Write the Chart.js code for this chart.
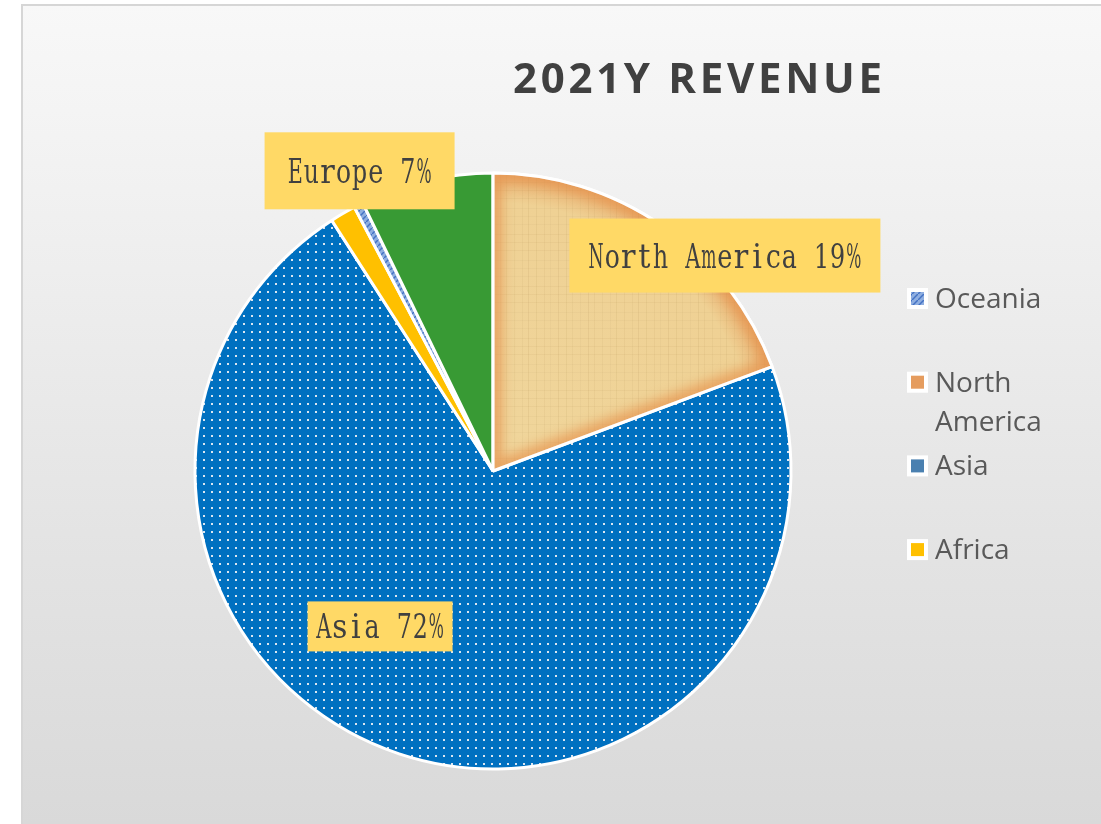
<!DOCTYPE html>
<html>
<head>
  <title>2021Y Revenue</title>
  <script src="https://cdn.jsdelivr.net/npm/chart.js"></script>
  <style>
    body { margin: 0; background: #fff; }
    canvas { display: block; }
  </style>
</head>
<body>
  <canvas id="pieChart" width="1101" height="824"></canvas>

  <script>
    // data, clockwise from 12 o'clock
    const regions = ['North America', 'Asia', 'Africa', 'Oceania', 'Europe'];
    const revenue = [19.3, 71.6, 1.4, 0.5, 7.2];
    const legendOrder = ['Oceania', 'North America', 'Asia', 'Africa'];
    const labelled = ['North America', 'Asia', 'Europe'];

    const CX = 493, CY = 471, R = 298;

    // fills
    function tile(w, h, draw) {
      const c = document.createElement('canvas');
      c.width = w; c.height = h;
      draw(c.getContext('2d'));
      return c.getContext('2d').createPattern(c, 'repeat');
    }

    const asiaFill = tile(8, 8, g => {
      g.fillStyle = '#0070c0'; g.fillRect(0, 0, 8, 8);
      g.fillStyle = '#dce6f0'; g.fillRect(3, 3, 2, 2);
    });

    const oceaniaFill = tile(6, 6, g => {
      g.fillStyle = '#8eaee0'; g.fillRect(0, 0, 6, 6);
      g.strokeStyle = '#4472c4'; g.lineWidth = 1.5;
      g.beginPath(); g.moveTo(-1, 7); g.lineTo(7, -1); g.stroke();
    });

    // papyrus-like texture for North America, laid over the whole canvas
    const naFill = (() => {
      const c = document.createElement('canvas');
      c.width = 1101; c.height = 824;
      const g = c.getContext('2d');
      const rg = g.createRadialGradient(CX, CY, 0, CX, CY, R);
      rg.addColorStop(0, '#f0d69c');
      rg.addColorStop(0.9, '#efd194');
      rg.addColorStop(1, '#e9b071');
      g.fillStyle = rg; g.fillRect(0, 0, 1101, 824);
      g.strokeStyle = '#8c6a2c';
      for (let x = 480; x < 800; x += 2) {
        if ((x * 7) % 11 < 3) {
          g.globalAlpha = 0.04 + ((x * 3) % 5) * 0.012;
          g.beginPath(); g.moveTo(x + 0.5, 160); g.lineTo(x + 0.5, 480); g.stroke();
        }
      }
      for (let y = 160; y < 480; y += 2) {
        if ((y * 5) % 13 < 3) {
          g.globalAlpha = 0.04 + ((y * 7) % 4) * 0.012;
          g.beginPath(); g.moveTo(480, y + 0.5); g.lineTo(800, y + 0.5); g.stroke();
        }
      }
      g.globalAlpha = 1;
      return g.createPattern(c, 'no-repeat');
    })();

    const fills = {
      'North America': naFill,
      'Asia': asiaFill,
      'Africa': '#ffc000',
      'Oceania': oceaniaFill,
      'Europe': '#389a34'
    };
    const legendSwatch = {
      'Oceania': oceaniaFill,
      'North America': '#e59c5e',
      'Asia': '#4a80b0',
      'Africa': '#ffc000'
    };

    // label boxes: offset from slice centroid, box size
    const labelBox = {
      'North America': { dx: 147, dy: -93, w: 311, h: 74 },
      'Asia': { dx: -66, dy: 14, w: 145, h: 50 },
      'Europe': { dx: -100, dy: -155, w: 190, h: 77 }
    };

    function slicePath(ctx, arc) {
      const p = arc.getProps(['x', 'y', 'startAngle', 'endAngle', 'outerRadius']);
      ctx.beginPath();
      ctx.moveTo(p.x, p.y);
      ctx.arc(p.x, p.y, p.outerRadius, p.startAngle, p.endAngle);
      ctx.closePath();
    }

    const backdrop = {
      id: 'backdrop',
      beforeDraw(chart) {
        const ctx = chart.ctx;
        ctx.save();
        ctx.fillStyle = '#ffffff';
        ctx.fillRect(0, 0, chart.width, chart.height);
        const lg = ctx.createLinearGradient(0, 4, 0, chart.height);
        lg.addColorStop(0, '#f8f8f8');
        lg.addColorStop(1, '#d9d9d9');
        ctx.fillStyle = lg;
        ctx.fillRect(21, 4, chart.width - 21, chart.height - 4);
        ctx.strokeStyle = '#d6d6d6';
        ctx.lineWidth = 2;
        ctx.beginPath();
        ctx.moveTo(22, chart.height); ctx.lineTo(22, 5); ctx.lineTo(chart.width, 5);
        ctx.stroke();
        ctx.restore();
      },
      // soft orange rim inside the North America slice
      afterDatasetsDraw(chart) {
        const ctx = chart.ctx;
        const arc = chart.getDatasetMeta(0).data[regions.indexOf('North America')];
        ctx.save();
        slicePath(ctx, arc);
        ctx.clip();
        ctx.filter = 'blur(6px)';
        ctx.strokeStyle = 'rgba(230,145,75,0.7)';
        ctx.lineWidth = 18;
        slicePath(ctx, arc);
        ctx.stroke();
        ctx.restore();
        ctx.save();
        ctx.strokeStyle = '#ffffff';
        ctx.lineWidth = 3;
        ctx.lineJoin = 'bevel';
        slicePath(ctx, arc);
        ctx.stroke();
        ctx.restore();
      }
    };

    // serif glyphs set in fixed-width cells, like the original label font
    function monoText(ctx, text, x, y, cell) {
      for (let k = 0; k < text.length; k++) {
        const ch = text[k];
        if (ch === ' ') continue;
        const w = ctx.measureText(ch).width;
        const s = Math.min(0.92, (cell - 1) / w);
        ctx.save();
        ctx.translate(x + k * cell + cell / 2, y);
        ctx.scale(s, 1);
        ctx.fillText(ch, -w / 2, 0);
        ctx.restore();
      }
    }

    const decorations = {
      id: 'decorations',
      afterDraw(chart) {
        const ctx = chart.ctx;
        ctx.save();

        // title
        ctx.font = 'bold 42px "Open Sans"';
        ctx.fillStyle = '#404040';
        ctx.textBaseline = 'alphabetic';
        ctx.textAlign = 'left';
        const title = '2021Y REVENUE';
        const plain = ctx.measureText(title).width;
        const spacing = (369 - plain) / (title.length - 1);
        let tx = 697.5 - 369 / 2;
        for (const ch of title) {
          ctx.fillText(ch, tx, 93);
          tx += ctx.measureText(ch).width + spacing;
        }

        // data labels
        const meta = chart.getDatasetMeta(0);
        const total = revenue.reduce((a, b) => a + b, 0);
        labelled.forEach(name => {
          const i = regions.indexOf(name);
          const p = meta.data[i].tooltipPosition();
          const b = labelBox[name];
          const bx = p.x + b.dx, by = p.y + b.dy;
          ctx.fillStyle = '#ffd966';
          ctx.fillRect(bx - b.w / 2, by - b.h / 2, b.w, b.h);
          const text = name + ' ' + Math.round(revenue[i] / total * 100) + '%';
          ctx.font = '33px "DejaVu Serif"';
          ctx.fillStyle = '#404040';
          const cell = 16.1;
          monoText(ctx, text, bx - text.length * cell / 2, by + 12, cell);
        });

        // legend
        ctx.font = '28px "Open Sans"';
        legendOrder.forEach((name, k) => {
          const base = 308 + k * 83.7;
          ctx.fillStyle = '#ffffff';
          ctx.fillRect(907, base - 20, 21, 21);
          ctx.fillStyle = legendSwatch[name];
          ctx.fillRect(911, base - 16, 13, 13);
          ctx.fillStyle = '#595959';
          const words = name.split(' ');
          let line = '', ly = base;
          words.forEach(wd => {
            const test = line ? line + ' ' + wd : wd;
            if (line && ctx.measureText(test).width > 150) {
              ctx.fillText(line, 935, ly);
              line = wd; ly += 39;
            } else {
              line = test;
            }
          });
          ctx.fillText(line, 935, ly);
        });

        ctx.restore();
      }
    };

    new Chart(document.getElementById('pieChart'), {
      type: 'pie',
      data: {
        labels: regions,
        datasets: [{
          data: revenue,
          backgroundColor: regions.map(r => fills[r]),
          borderColor: '#ffffff',
          borderWidth: 3
        }]
      },
      options: {
        responsive: false,
        animation: false,
        events: [],
        layout: {
          padding: {
            left: CX - R - 1.5,
            top: CY - R - 1.5,
            right: 1101 - (CX + R + 1.5),
            bottom: 824 - (CY + R + 1.5)
          }
        },
        plugins: {
          legend: { display: false },
          title: { display: false },
          tooltip: { enabled: false }
        }
      },
      plugins: [backdrop, decorations]
    });
  </script>
</body>
</html>
